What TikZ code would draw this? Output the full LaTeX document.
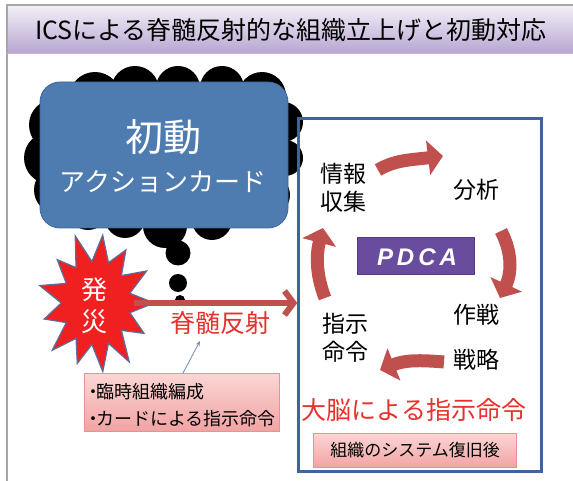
\documentclass[tikz,border=0pt]{standalone}
\usepackage{fontspec}
\setmainfont{Noto Sans CJK JP}
\newfontfamily\latinfont{Liberation Sans}
\usetikzlibrary{arrows.meta,calc}
\definecolor{titletop}{HTML}{F4F0F8}
\definecolor{titlebot}{HTML}{B7A6D2}
\definecolor{boxblue}{HTML}{4E7BB0}
\definecolor{boxblueedge}{HTML}{3C6497}
\definecolor{arrowred}{HTML}{C0504D}
\definecolor{textred}{HTML}{E8302C}
\definecolor{burstred}{HTML}{F02020}
\definecolor{burstedge}{HTML}{5A6E9A}
\definecolor{pinktop}{HTML}{FBD6D6}
\definecolor{pinkbot}{HTML}{F2A3A3}
\definecolor{pinkedge}{HTML}{E39494}
\definecolor{frameblue}{HTML}{3F649C}
\definecolor{pdcapurple}{HTML}{6A4C9F}
\definecolor{thinblue}{HTML}{6E8CB9}
\tikzset{
  fatarrow/.style={draw=arrowred, line width=13pt, -{Triangle[length=15pt,width=34pt]}},
  bigtxt/.style={font=\fontsize{23}{28}\selectfont, align=center, inner sep=0pt},
  redtxt/.style={font=\fontsize{25}{30}\selectfont, text=textred, inner sep=0pt},
  pinkbox/.style={top color=pinktop, bottom color=pinkbot, draw=pinkedge, line width=0.8pt},
  bubble/.style={circle, fill=black, inner sep=0pt}
}
\newcommand{\tightdot}{\hspace{-0.3em}・\hspace{-0.35em}}
\begin{document}
\begin{tikzpicture}[x=1pt,y=-1pt]
\useasboundingbox (0,0) rectangle (573,481);
\fill[white] (0,0) rectangle (573,481);
% frame and title bar
\shade[top color=titletop, bottom color=titlebot] (7,5) rectangle (573,53);
\draw[gray!70, line width=1.4pt] (7,481) -- (7,5) -- (573,5);
\draw[gray!50, line width=0.8pt] (7,53) -- (573,53);
\node[font=\fontsize{25}{30}\selectfont, inner sep=0pt] (title) at (291,30) {ICSによる脊髄反射的な組織立上げと初動対応};

% black thought cloud
\fill[black] (163,157) ellipse [x radius=118pt, y radius=68pt];
\foreach \cx/\cy/\r in {55/125/26, 50/158/26, 58/190/24, 95/98/26, 135/90/24, 178/88/22, 222/88/22, 262/96/24, 283/122/20, 285/158/18, 270/195/20, 165/226/22, 125/218/20, 212/220/20, 88/210/20}
  \fill[black] (\cx,\cy) circle [radius=\r pt];
\node[bubble, minimum size=25pt] (b1) at (178,253) {};
\node[bubble, minimum size=18pt] (b2) at (178,283) {};
\node[bubble, minimum size=10pt] (b3) at (180,300) {};

% blue action card box
\node[rounded corners=20pt, fill=boxblue, draw=boxblueedge, line width=0.8pt, minimum width=248pt, minimum height=146pt] (card) at (164,155) {};
\node[text=white, font=\fontsize{38}{44}\selectfont, inner sep=0pt] (shodo) at (163,137) {初動};
\node[text=white, font=\fontsize{26}{30}\selectfont, inner sep=0pt] (action) at (163,182) {アクションカード};

% right framed box
\node[draw=frameblue, line width=2.5pt, minimum width=243pt, minimum height=353pt] (rbox) at (420,295) {};

% starburst
\begin{scope}[shift={(96,303)}]
\draw[fill=burstred, draw=burstedge, line width=1.2pt]
  (0:58) \foreach \a/\f in {13/0.6, 27/0.93, 41/0.58, 55/1.0, 69/0.6, 83/0.96, 97/0.58, 111/0.9, 125/0.6, 139/1.0, 152/0.58, 166/0.92, 180/0.6, 194/1.0, 208/0.58, 222/0.9, 235/0.6, 249/1.0, 263/0.58, 277/0.95, 291/0.6, 305/0.9, 319/0.58, 333/0.98, 347/0.6}
  { -- (\a:{58*\f} and {72*\f}) } -- cycle;
\end{scope}
\node[text=white, font=\fontsize{26}{30}\selectfont, inner sep=0pt] (hatsu) at (94,290) {発};
\node[text=white, font=\fontsize{26}{30}\selectfont, inner sep=0pt] (sai) at (94,322) {災};
\coordinate (burstR) at (134,303);

% reflex arrow
\draw[arrowred, line width=6pt, -{Straight Barb[length=9pt,width=24pt]}] (burstR) -- (rbox.west |- burstR);
\node[redtxt] (reflex) at (220,323) {脊髄反射};

% pink note box
\node[pinkbox, minimum width=195pt, minimum height=58pt] (note) at (182,402) {};
\node[font=\fontsize{18}{27}\selectfont, align=left, anchor=west, inner sep=0pt] (notetxt) at (90,405) {\tightdot 臨時組織編成\\\tightdot カードによる指示命令};
\coordinate (noteTop) at (183,373);
\coordinate (reflexBot) at (200,341);
\draw[thinblue, line width=0.8pt, -{Stealth[length=5pt,width=4pt]}] (noteTop) -- (reflexBot);

% PDCA contents
\node[bigtxt] (joho) at (343,188) {情報\\収集};
\node[bigtxt] (bunseki) at (476,190) {分析};
\node[bigtxt] (sakusen) at (476,315) {作戦};
\node[bigtxt] (senryaku) at (476,360) {戦略};
\node[bigtxt] (shiji) at (345,338) {指示\\命令};
\node[fill=pdcapurple, draw=pdcapurple!80!black, minimum width=117pt, minimum height=37pt, inner sep=0pt] (pdca) at (416,256) {};
\node[text=white, font=\latinfont\bfseries\itshape\fontsize{24}{26}\selectfont, inner sep=0pt] (pdcatxt) at (417,257) {P\,D\,C\,A};

% cycle arrows
\coordinate (a1s) at (378,170);
\coordinate (a1e) at (443,156);
\coordinate (a2s) at (501,231);
\coordinate (a2e) at (500,298);
\coordinate (a3s) at (444,362);
\coordinate (a3e) at (380,370);
\coordinate (a4s) at (325,298);
\coordinate (a4e) at (323,228);
\draw[fatarrow] (a1s) .. controls (395,160) and (410,160) .. (a1e);
\draw[fatarrow] (a2s) .. controls (512,252) and (512,272) .. (a2e);
\draw[fatarrow] (a3s) .. controls (420,360) and (405,360) .. (a3e);
\draw[fatarrow] (a4s) .. controls (316,275) and (316,255) .. (a4e);

% bottom of right box
\node[redtxt, font=\fontsize{25}{30}\selectfont] (brain) at (414,410) {大脳による指示命令};
\node[pinkbox, minimum width=203pt, minimum height=34pt, font=\fontsize{17}{20}\selectfont] (restore) at (415,450) {組織のシステム復旧後};
\end{tikzpicture}
\end{document}
